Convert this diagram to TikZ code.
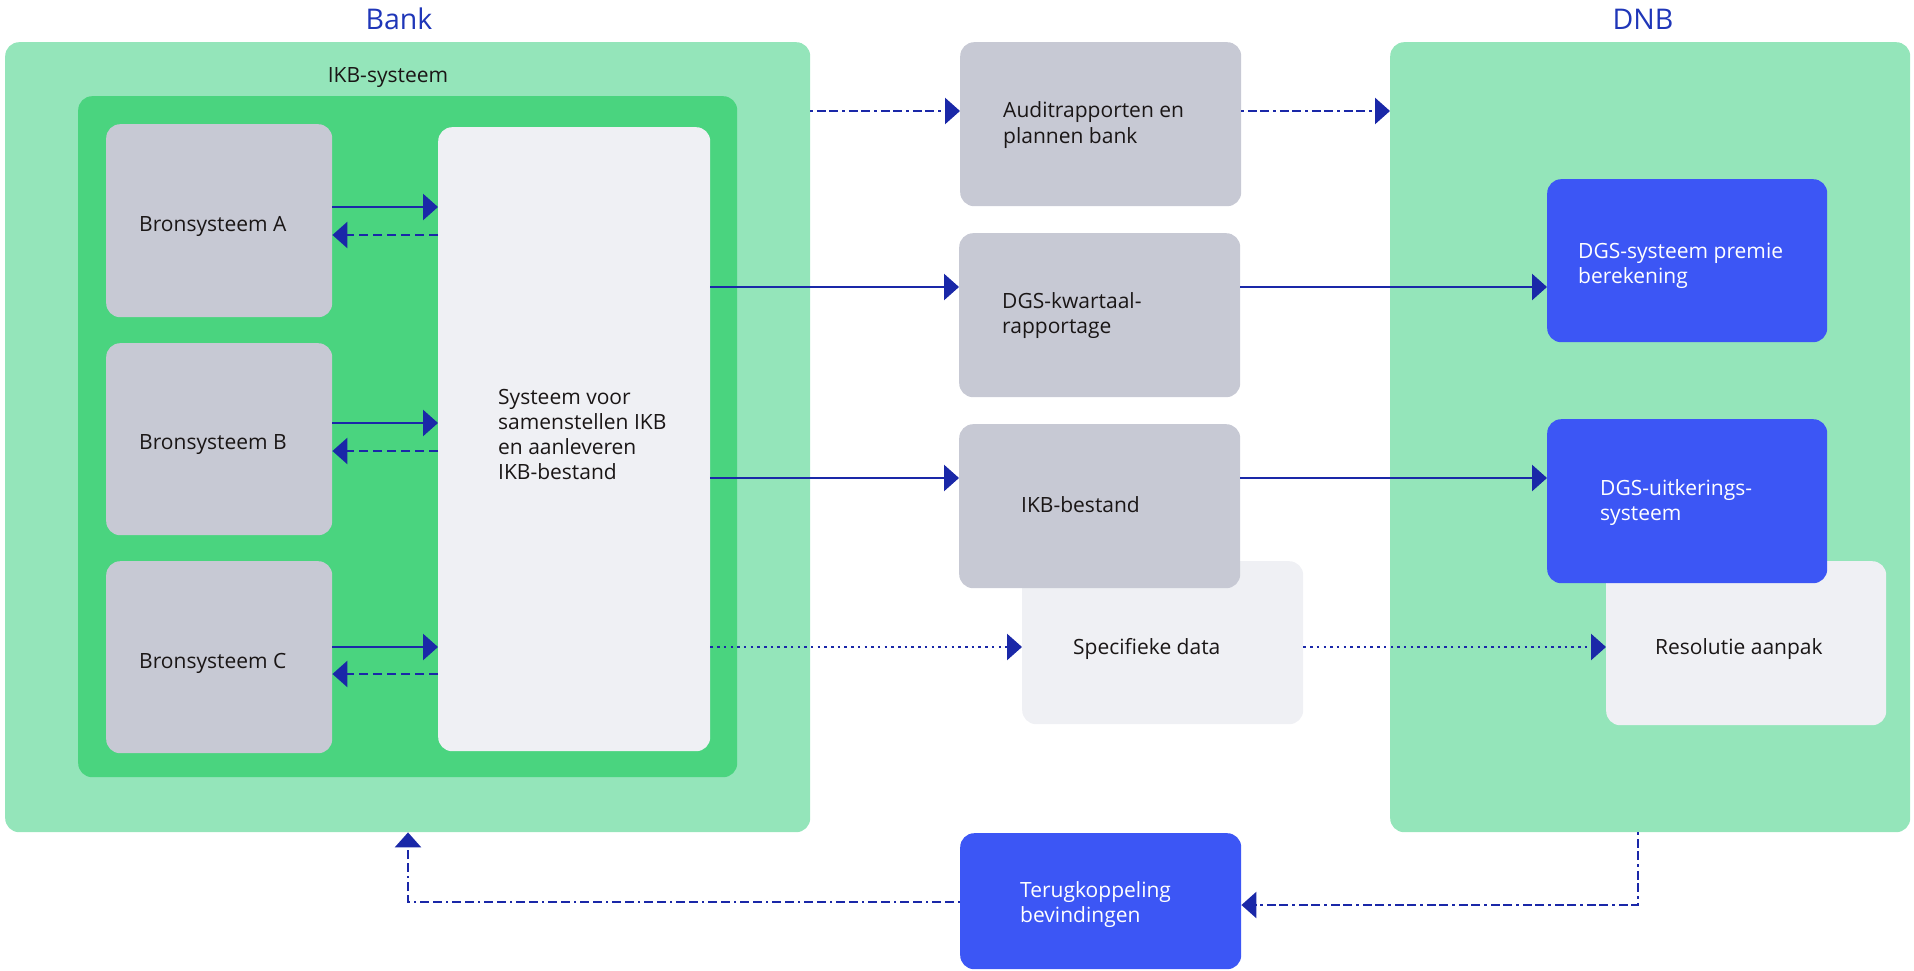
\documentclass[tikz,border=0pt]{standalone}
\usepackage{fontspec}
\setmainfont{Open Sans}
\usetikzlibrary{arrows.meta}
\definecolor{lgreen}{HTML}{94E5BA}
\definecolor{dgreen}{HTML}{4AD47F}
\definecolor{greybox}{HTML}{C7C9D4}
\definecolor{lightbox}{HTML}{EFF0F4}
\definecolor{bluebox}{HTML}{3C56F5}
\definecolor{linecol}{HTML}{1A28A8}
\definecolor{titleblue}{HTML}{1F36B8}
\definecolor{textdark}{HTML}{1A1616}
\newcommand{\mylines}[1]{\begin{tabular}[t]{@{}l@{}}#1\end{tabular}}
\begin{document}
\begin{tikzpicture}[x=1pt,y=-1pt,
  box/.style={rectangle, rounded corners=14pt, inner sep=0pt, anchor=north west, draw=none},
  txt/.style={anchor=base west, inner sep=0pt, font=\fontsize{21}{25}\selectfont, text=textdark},
  wtxt/.style={txt, text=white},
  ttl/.style={anchor=base, inner sep=0pt, font=\fontsize{28.5}{32}\selectfont, text=titleblue},
  conn/.style={draw=linecol, line width=2.7pt, -{Triangle[length=15pt,width=26pt]}},
  solidconn/.style={conn},
  dashconn/.style={conn, dash pattern=on 9pt off 5pt},
  dotconn/.style={conn, dash pattern=on 2.5pt off 4.2pt},
  ddconn/.style={conn, dash pattern=on 2.5pt off 4pt on 9pt off 3.5pt on 9pt off 4pt}
]
\useasboundingbox (0,0) rectangle (1914,971);
% outer boxes
\node[box, fill=lgreen, minimum width=805pt, minimum height=790pt] (bank) at (5,42) {};
\node[box, fill=lgreen, minimum width=520pt, minimum height=790pt] (dnb) at (1390,42) {};
\node[box, fill=dgreen, minimum width=659pt, minimum height=681pt] (ikbsys) at (78,96) {};
% bank inner
\node[box, fill=greybox, minimum width=226pt, minimum height=193pt] (brA) at (106,124) {};
\node[box, fill=greybox, minimum width=226pt, minimum height=192pt] (brB) at (106,343) {};
\node[box, fill=greybox, minimum width=226pt, minimum height=192pt] (brC) at (106,561) {};
\node[box, fill=lightbox, minimum width=272pt, minimum height=624pt] (sys) at (438,127) {};
% middle column
\node[box, fill=greybox, minimum width=281pt, minimum height=164pt] (audit) at (960,42) {};
\node[box, fill=greybox, minimum width=281pt, minimum height=164pt] (kwart) at (959,233) {};
\node[box, fill=lightbox, minimum width=281pt, minimum height=163pt] (spec) at (1022,561) {};
\node[box, fill=greybox, minimum width=281pt, minimum height=164pt] (ikbb) at (959,424) {};
\node[box, fill=bluebox, minimum width=281pt, minimum height=136pt] (terug) at (960,833) {};
% DNB inner
\node[box, fill=bluebox, minimum width=280pt, minimum height=163pt] (premie) at (1547,179) {};
\node[box, fill=lightbox, minimum width=280pt, minimum height=164pt] (resol) at (1606,561) {};
\node[box, fill=bluebox, minimum width=280pt, minimum height=164pt] (uitk) at (1547,419) {};
% titles and texts
\node[ttl] (tbank) at (399,30) {Bank};
\node[ttl] (tdnb) at (1643,30) {DNB};
\node[txt, anchor=base] (tikbsys) at (388,83) {IKB-systeem};
\node[txt] (tbrA) at (139,231) {Bronsysteem A};
\node[txt] (tbrB) at (139,449) {Bronsysteem B};
\node[txt] (tbrC) at (139,668) {Bronsysteem C};
\node[txt] (tsys) at (498,404) {\mylines{Systeem voor\\samenstellen IKB\\en aanleveren\\IKB-bestand}};
\node[txt] (taudit) at (1003,118) {\mylines{Auditrapporten en\\plannen bank}};
\node[txt] (tkwart) at (1002,308) {\mylines{DGS-kwartaal-\\rapportage}};
\node[txt] (tikbb) at (1021,512) {IKB-bestand};
\node[txt] (tspec) at (1073,654) {Specifieke data};
\node[txt] (tresol) at (1655,654) {Resolutie aanpak};
\node[wtxt] (tpremie) at (1578,258) {\mylines{DGS-systeem premie\\berekening}};
\node[wtxt] (tuitk) at (1600,495) {\mylines{DGS-uitkerings-\\systeem}};
\node[wtxt] (tterug) at (1020,897) {\mylines{Terugkoppeling\\bevindingen}};
% connector levels
\coordinate (yAud) at (0,111);
\coordinate (yKw) at (0,287);
\coordinate (yIK) at (0,478);
\coordinate (ySp) at (0,647);
\coordinate (yA1) at (0,207);
\coordinate (yA2) at (0,235);
\coordinate (yB1) at (0,423);
\coordinate (yB2) at (0,451);
\coordinate (yC1) at (0,647);
\coordinate (yC2) at (0,674);
\coordinate (fbR) at (1638,905);
\coordinate (fbL) at (408,902);
% bronsystemen <-> systeem
\draw[solidconn] (brA.east |- yA1) -- (sys.west |- yA1);
\draw[dashconn] (sys.west |- yA2) -- (brA.east |- yA2);
\draw[solidconn] (brB.east |- yB1) -- (sys.west |- yB1);
\draw[dashconn] (sys.west |- yB2) -- (brB.east |- yB2);
\draw[solidconn] (brC.east |- yC1) -- (sys.west |- yC1);
\draw[dashconn] (sys.west |- yC2) -- (brC.east |- yC2);
% bank -> middle -> dnb
\draw[ddconn] (bank.east |- yAud) -- (audit.west |- yAud);
\draw[ddconn] (audit.east |- yAud) -- (dnb.west |- yAud);
\draw[solidconn] (sys.east |- yKw) -- (kwart.west |- yKw);
\draw[solidconn] (kwart.east |- yKw) -- (premie.west |- yKw);
\draw[solidconn] (sys.east |- yIK) -- (ikbb.west |- yIK);
\draw[solidconn] (ikbb.east |- yIK) -- (uitk.west |- yIK);
\draw[dotconn] (sys.east |- ySp) -- (spec.west |- ySp);
\draw[dotconn] (spec.east |- ySp) -- (resol.west |- ySp);
% feedback loop
\draw[ddconn] (dnb.south -| fbR) |- (terug.east |- fbR);
\draw[ddconn] (terug.west |- fbL) -| (bank.south -| fbL);
\end{tikzpicture}
\end{document}
